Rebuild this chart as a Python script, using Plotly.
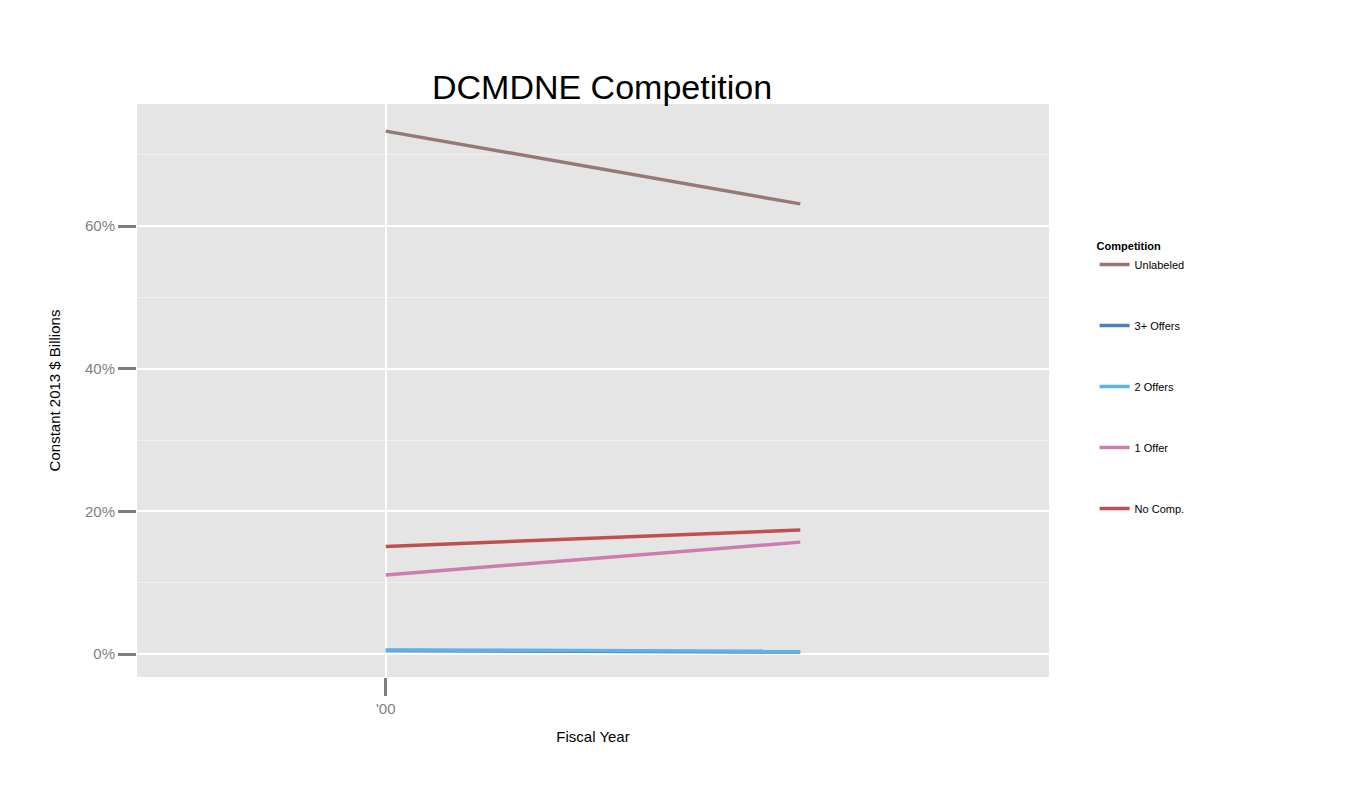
import plotly.graph_objects as go

years = [2000, 2001]
series = ["Unlabeled", "3+ Offers", "2 Offers", "1 Offer", "No Comp."]
values = {
    "Unlabeled": [73.3, 63.1],
    "3+ Offers": [0.5, 0.3],
    "2 Offers": [0.6, 0.4],
    "1 Offer": [11.1, 15.7],
    "No Comp.": [15.1, 17.4],
}
colors = {
    "Unlabeled": "#967878",
    "3+ Offers": "#4a7fc1",
    "2 Offers": "#5cb3ea",
    "1 Offer": "#cf7bb0",
    "No Comp.": "#c0504d",
}
ytick_vals = [0, 20, 40, 60]
ytick_text = ["0%", "20%", "40%", "60%"]

fig = go.Figure()
for s in series:
    fig.add_trace(go.Scatter(x=years, y=values[s], mode="lines", name=s,
                             legendgroup=s,
                             line=dict(color=colors[s], width=3.5)))

fig.update_layout(
    width=1350, height=787,
    paper_bgcolor="white", plot_bgcolor="#e5e5e5",
    margin=dict(l=129, r=309, t=96, b=118),
    font=dict(family="Liberation Sans, Arial", color="black"),
    title=dict(text="DCMDNE Competition", x=0.44, xanchor="center",
               y=0.9, yanchor="middle", font=dict(size=34)),
    legend=dict(title=dict(text="<b>Competition</b>", font=dict(size=11)),
                font=dict(size=11), x=1.05, y=0.77, yanchor="top",
                tracegroupgap=42, bgcolor="rgba(0,0,0,0)"),
)
fig.update_xaxes(range=[1999.4, 2001.6], tickvals=[2000], ticktext=["'00"],
                 showgrid=True, gridcolor="white", gridwidth=2,
                 ticks="outside", ticklen=18, tickwidth=3, tickcolor="#7f7f7f",
                 tickfont=dict(size=15, color="#7f7f7f"), zeroline=False,
                 title=dict(text="Fiscal Year", font=dict(size=15)))
fig.update_yaxes(range=[-3.2, 77.1], tickvals=ytick_vals, ticktext=ytick_text,
                 showgrid=True, gridcolor="white", gridwidth=2, zeroline=False,
                 minor=dict(tickvals=[10, 30, 50, 70], showgrid=True,
                            gridcolor="#f0f0f0", gridwidth=1),
                 ticks="outside", ticklen=18, tickwidth=3, tickcolor="#7f7f7f",
                 tickfont=dict(size=15, color="#7f7f7f"),
                 title=dict(text="Constant 2013 $ Billions", font=dict(size=15),
                            standoff=20))

fig.write_html("out.html")
